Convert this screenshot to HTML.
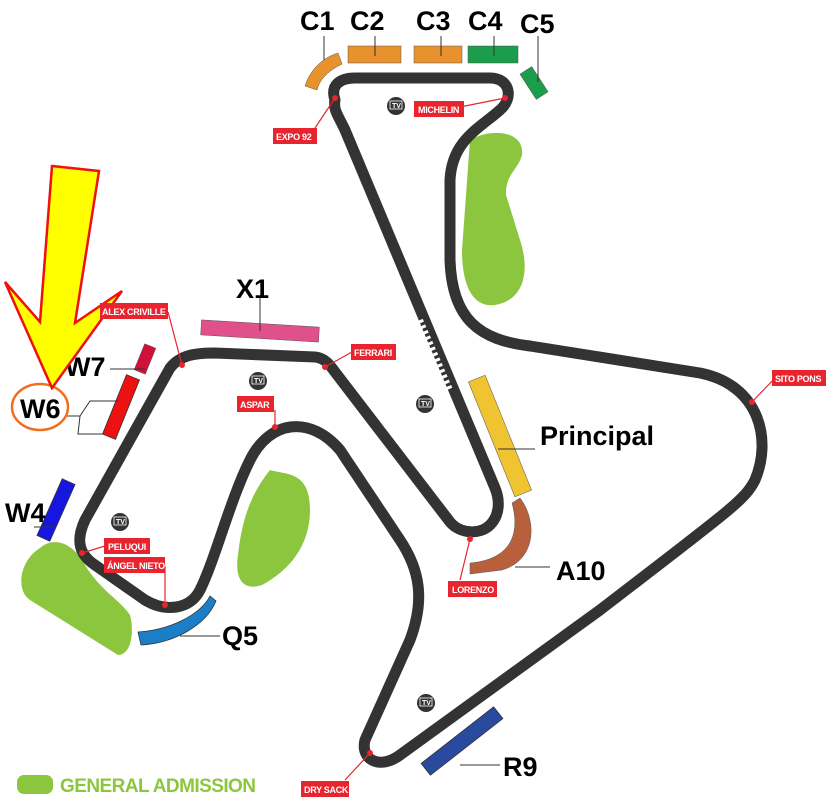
<!DOCTYPE html>
<html><head><meta charset="utf-8"><style>
html,body{margin:0;padding:0;background:#fff;width:829px;height:808px;overflow:hidden}
svg{display:block}
.lb{font-family:"Liberation Sans",sans-serif;font-weight:bold;fill:#000}
.tg{font-family:"Liberation Sans",sans-serif;font-size:9px;fill:#fff;font-weight:bold;letter-spacing:-0.3px}
.tv{font-family:"Liberation Sans",sans-serif;font-size:7px;fill:#fff;font-weight:bold}
</style></head><body>
<svg width="829" height="808" viewBox="0 0 829 808" xmlns="http://www.w3.org/2000/svg">
<!-- green areas -->
<g fill="#8cc63f">
<path d="M470,140 C490,128 525,130 522,155 C518,170 505,175 506,195 L520,240 C530,270 525,300 495,305 C470,308 462,280 462,250 Z"/>
<path d="M270,470 C285,475 310,470 310,510 C310,545 290,570 262,585 C240,592 235,575 238,555 C242,520 250,495 270,470 Z"/>
<path d="M40,548 C55,535 75,545 85,565 C100,590 120,600 130,615 C135,635 130,655 118,655 L30,600 C15,590 20,560 40,548 Z"/>
<rect x="17" y="775" width="36" height="19" rx="7"/>
</g>
<text x="60" y="792" font-family="'Liberation Sans',sans-serif" font-weight="bold" font-size="19" fill="#8cc63f" textLength="196">GENERAL ADMISSION</text>
<!-- track -->
<path d="M335,100 C330,85 340,78 355,78 L490,78 C510,78 514,98 500,110 C480,128 452,140 450,180 L450,260 C452,320 480,340 530,346 L700,373 C760,385 772,440 755,480 C745,500 730,510 600,610 L400,755 C380,770 360,760 365,740 L410,640 C425,600 420,570 400,540 L340,450 C310,415 270,420 250,460 C230,500 215,560 200,590 C190,610 165,612 145,600 L95,565 C75,552 78,535 85,520 L170,368 C180,355 195,353 215,353 L315,357 C325,358 330,365 335,372 L450,522 C460,534 480,535 490,525 C500,515 500,500 495,488 L345,130 C338,115 333,110 335,100 Z" fill="none" stroke="#333" stroke-width="11" stroke-linejoin="round"/>
<!-- checkered -->
<line x1="420" y1="320" x2="450" y2="390" stroke="#fff" stroke-width="6" stroke-dasharray="3 3"/>
<!-- grandstands -->
<path d="M305,86 C310,70 322,58 338,53 L342,64 C330,70 320,78 317,90 Z" fill="#e8922e" stroke="#555" stroke-width="0.5"/>
<rect x="348" y="46" width="53" height="17" fill="#e8922e" stroke="#555" stroke-width="0.5"/>
<rect x="414" y="46" width="48" height="17" fill="#e8922e" stroke="#555" stroke-width="0.5"/>
<rect x="468" y="46" width="50" height="17" fill="#1a9e4b" stroke="#555" stroke-width="0.5"/>
<rect x="-7" y="-15" width="14" height="30" transform="translate(534,83) rotate(-33)" fill="#1a9e4b" stroke="#555" stroke-width="0.5"/>
<rect x="-59" y="-7.5" width="118" height="15" transform="translate(260,331) rotate(3.5)" fill="#e0508a" stroke="#555" stroke-width="0.5"/>
<rect x="-6" y="-14" width="12" height="28" transform="translate(145,359) rotate(22)" fill="#d0103a" stroke="#555" stroke-width="0.5"/>
<rect x="-7" y="-32" width="14" height="64" transform="translate(121,407) rotate(22)" fill="#ee1111" stroke="#333" stroke-width="0.8"/>
<rect x="-7" y="-31" width="14" height="62" transform="translate(56,510) rotate(24)" fill="#1616e0" stroke="#333" stroke-width="0.8"/>
<path d="M138,632 C170,630 200,615 210,596 L216,601 C206,625 175,643 141,645 Z" fill="#1a7fc8" stroke="#333" stroke-width="0.8"/>
<rect x="-9" y="-62" width="18" height="124" transform="translate(500,436) rotate(-22)" fill="#f0c431" stroke="#555" stroke-width="0.5"/>
<path d="M520,498 C537,520 537,560 502,570 L470,574 L470,563 C505,560 522,540 512,503 Z" fill="#b8603c" stroke="#555" stroke-width="0.5"/>
<rect x="-46" y="-7.5" width="92" height="15" transform="translate(462,741) rotate(-38)" fill="#2a4aa0" stroke="#333" stroke-width="0.8"/>
<!-- leader lines -->
<g stroke="#333" stroke-width="1">
<line x1="324" y1="36" x2="324" y2="60"/><line x1="375" y1="36" x2="375" y2="56"/><line x1="441" y1="36" x2="441" y2="56"/><line x1="494" y1="36" x2="494" y2="56"/><line x1="538" y1="36" x2="538" y2="82"/>
<line x1="260" y1="298" x2="260" y2="331"/>
<line x1="110" y1="369" x2="145" y2="369"/>
<path d="M66,416 L80,416 L90,401 L118,401 M80,416 L78,434 L104,434" fill="none"/>
<line x1="34" y1="527" x2="55" y2="527"/>
<line x1="180" y1="636" x2="220" y2="636"/>
<line x1="498" y1="449" x2="535" y2="449"/>
<line x1="515" y1="567" x2="550" y2="567"/>
<line x1="460" y1="765" x2="500" y2="765"/>
</g>
<!-- labels -->
<g class="lb" font-size="27">
<text x="300" y="30">C1</text><text x="350" y="30">C2</text><text x="416" y="30">C3</text><text x="468" y="30">C4</text><text x="520" y="33">C5</text>
<text x="236" y="298">X1</text>
<text x="65" y="376">W7</text>
<text x="20" y="418">W6</text>
<text x="5" y="522">W4</text>
<text x="222" y="645">Q5</text>
<text x="540" y="445">Principal</text>
<text x="556" y="580">A10</text>
<text x="503" y="776">R9</text>
</g>
<ellipse cx="40" cy="407" rx="28" ry="23" fill="none" stroke="#f07020" stroke-width="2.5"/>
<!-- arrow -->
<polygon points="52,166 99,171 75,323 122,291 52,388 5,282 40,322" fill="#ffff00" stroke="#ee1111" stroke-width="2.5" stroke-linejoin="miter"/>
<!-- red markers -->
<g stroke="#e8252f" stroke-width="1.2" fill="none">
<path d="M335,98 L315,128"/><path d="M505,98 L460,107"/><path d="M182,365 L168,312"/><path d="M325,367 L352,352"/><path d="M275,427 L275,410"/><path d="M752,402 L775,378"/><path d="M82,553 L105,546"/><path d="M165,605 L165,566"/><path d="M470,539 L460,580"/><path d="M370,753 L345,780"/>
</g>
<g fill="#e8252f">
<circle cx="335" cy="98" r="3"/><circle cx="505" cy="98" r="3"/><circle cx="182" cy="365" r="3"/><circle cx="325" cy="367" r="3"/><circle cx="275" cy="427" r="3"/><circle cx="752" cy="402" r="3"/><circle cx="82" cy="553" r="3"/><circle cx="165" cy="605" r="3"/><circle cx="470" cy="539" r="3"/><circle cx="370" cy="753" r="3"/>
<rect x="273" y="128" width="44" height="16"/><rect x="414" y="101" width="50" height="16"/><rect x="100" y="303" width="68" height="16"/><rect x="351" y="344" width="45" height="16"/><rect x="237" y="396" width="37" height="16"/><rect x="772" y="370" width="54" height="16"/><rect x="104" y="538" width="46" height="16"/><rect x="104" y="557" width="61" height="16"/><rect x="448" y="581" width="49" height="16"/><rect x="301" y="781" width="48" height="16"/>
</g>
<g class="tg">
<text x="276" y="140">EXPO 92</text><text x="418" y="113">MICHELIN</text><text x="102" y="315">ALEX CRIVILLE</text><text x="354" y="356">FERRARI</text><text x="240" y="408">ASPAR</text><text x="775" y="382">SITO PONS</text><text x="108" y="550">PELUQUI</text><text x="107" y="569">ÁNGEL NIETO</text><text x="452" y="593">LORENZO</text><text x="304" y="793">DRY SACK</text>
</g>
<!-- TV icons -->
<g>
<circle cx="396" cy="106" r="9" fill="#333"/><circle cx="258" cy="381" r="9" fill="#333"/><circle cx="425" cy="404" r="9" fill="#333"/><circle cx="120" cy="522" r="9" fill="#333"/><circle cx="426" cy="703" r="9" fill="#333"/>
</g>
<g fill="none" stroke="#fff" stroke-width="0.8">
<rect x="390" y="101" width="12" height="8"/><rect x="252" y="376" width="12" height="8"/><rect x="419" y="399" width="12" height="8"/><rect x="114" y="517" width="12" height="8"/><rect x="420" y="698" width="12" height="8"/>
</g>
<g class="tv">
<text x="392" y="108">TV</text><text x="254" y="383">TV</text><text x="421" y="406">TV</text><text x="116" y="524">TV</text><text x="422" y="705">TV</text>
</g>
</svg>
</body></html>
